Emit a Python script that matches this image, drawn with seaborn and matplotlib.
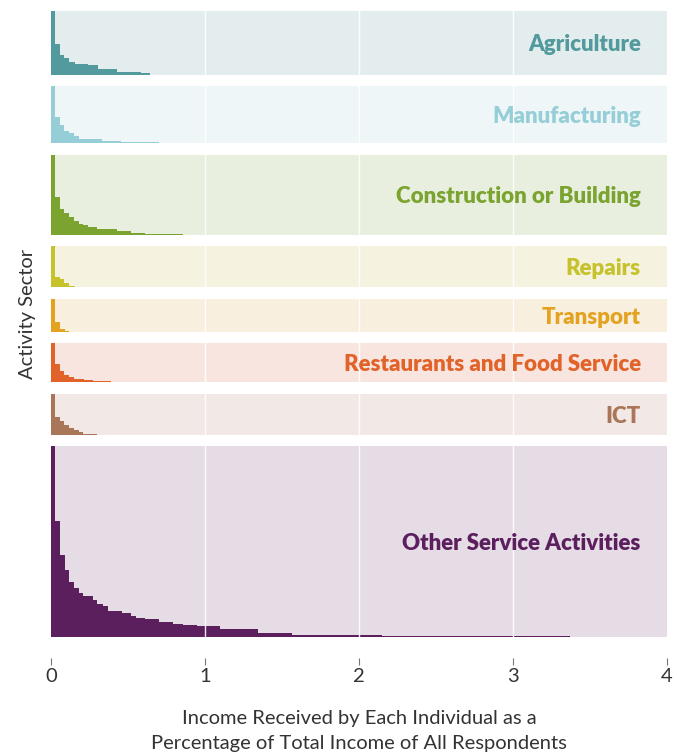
import numpy as np
import pandas as pd
import matplotlib.pyplot as plt
import matplotlib.transforms as mtransforms
import seaborn as sns

# Sector names, colours and relative panel sizes (number of respondents)
sectors = ["Agriculture", "Manufacturing", "Construction or Building", "Repairs",
           "Transport", "Restaurants and Food Service", "ICT", "Other Service Activities"]
fill_colors = ["#529A9D", "#95CED7", "#7BA32F", "#C6C22B", "#E3A21F", "#E1632A", "#AA7659", "#5B1F5E"]
bg_colors = ["#E4EDEE", "#EEF6F8", "#E8EFDF", "#F5F2DF", "#F9EFDE", "#F9E5DF", "#F2E9E6", "#E6DCE6"]
panel_size = [64, 57, 80, 41, 33, 39, 41, 191]

# Step outline per sector: income level (% of total) where each step ends,
# and share of the sector's respondents still above that level
agri_x = [0.026, 0.058, 0.086, 0.117, 0.156, 0.238, 0.303, 0.427, 0.584, 0.643]
agri_share = [1.0, 0.48, 0.31, 0.26, 0.21, 0.17, 0.15, 0.09, 0.05, 0.025]

manu_x = [0.026, 0.058, 0.086, 0.117, 0.15, 0.18, 0.33, 0.455, 0.70]
manu_share = [1.0, 0.46, 0.33, 0.22, 0.175, 0.13, 0.07, 0.045, 0.02]

cons_x = [0.026, 0.058, 0.086, 0.117, 0.15, 0.18, 0.21, 0.24, 0.30, 0.43, 0.52, 0.61, 0.855]
cons_share = [1.0, 0.47, 0.32, 0.27, 0.22, 0.175, 0.14, 0.12, 0.10, 0.075, 0.043, 0.02, 0.01]

repair_x = [0.026, 0.058, 0.086, 0.117, 0.156]
repair_share = [1.0, 0.26, 0.19, 0.10, 0.035]

trans_x = [0.026, 0.058, 0.09, 0.12]
trans_share = [1.0, 0.31, 0.08, 0.03]

rest_x = [0.026, 0.058, 0.086, 0.117, 0.15, 0.216, 0.275, 0.39]
rest_share = [1.0, 0.47, 0.28, 0.19, 0.13, 0.085, 0.05, 0.025]

ict_x = [0.026, 0.058, 0.086, 0.117, 0.15, 0.18, 0.21, 0.30]
ict_share = [1.0, 0.42, 0.33, 0.23, 0.16, 0.12, 0.06, 0.02]

other_x = [0.026, 0.058, 0.091, 0.119, 0.149, 0.184, 0.21, 0.275, 0.30, 0.336, 0.372,
           0.459, 0.518, 0.552, 0.61, 0.703, 0.794, 0.859, 0.946, 1.097, 1.346, 1.563,
           2.147, 3.37]
other_share = [1.0, 0.607, 0.432, 0.35, 0.288, 0.257, 0.231, 0.215, 0.192, 0.175, 0.161,
               0.136, 0.128, 0.11, 0.099, 0.096, 0.079, 0.07, 0.061, 0.056, 0.04, 0.023,
               0.012, 0.006]

steps = [(agri_x, agri_share), (manu_x, manu_share), (cons_x, cons_share),
         (repair_x, repair_share), (trans_x, trans_share), (rest_x, rest_share),
         (ict_x, ict_share), (other_x, other_share)]

sns.set_theme(style="white")
plt.rcParams['font.family'] = ['Lato', 'DejaVu Sans']

fig = plt.figure(figsize=(6.77, 7.52), dpi=100)
gs = fig.add_gridspec(len(sectors), 1, height_ratios=panel_size, hspace=0.168,
                      left=51/677, right=667/677, top=1-11/752, bottom=1-637/752)

for i, (name, (xs, share)) in enumerate(zip(sectors, steps)):
    ax = fig.add_subplot(gs[i])
    edges = [0.0] + list(xs)
    df = pd.DataFrame({"income": [(a + b) / 2 for a, b in zip(edges[:-1], edges[1:])],
                       "share": share})
    sns.histplot(data=df, x="income", weights="share", bins=edges, element="step",
                 fill=True, color=fill_colors[i], alpha=1, linewidth=0, ax=ax)
    ax.set_facecolor(bg_colors[i])
    ax.set_xlim(0, 4)
    ax.set_ylim(0, 1)
    for v in [1, 2, 3]:
        ax.axvline(v, color="white", lw=1.0, alpha=0.9, zorder=3)
    # nudge the sector label a couple of pixels down so the caps sit centred
    lbl_tr = mtransforms.offset_copy(ax.transData, fig=fig, y=-2, units="dots")
    ax.text(3.83, 0.5, name, ha="right", va="center", fontsize=16,
            fontweight="heavy", color=fill_colors[i], zorder=4, transform=lbl_tr)
    ax.set_ylabel("")
    ax.set_yticks([])
    sns.despine(ax=ax, left=True, bottom=True)
    if i < len(sectors) - 1:
        ax.set_xticks([])
        ax.set_xlabel("")
    else:
        ax.spines["bottom"].set_position(("outward", 15))
        ax.set_xticks([0, 1, 2, 3, 4])
        ax.tick_params(axis="x", bottom=True, length=5, width=0.8, color="#777777",
                       labelsize=14.5, labelcolor="#333333", pad=2)
        ax.set_xlabel("Income Received by Each Individual as a\nPercentage of Total Income of All Respondents",
                      fontsize=14.5, color="#333333", labelpad=18, linespacing=1.6)

fig.text(0.04, 1-314/752, "Activity Sector", rotation=90, ha="center", va="center",
         fontsize=14.5, color="#333333")

fig.savefig("out.png", dpi=100)
